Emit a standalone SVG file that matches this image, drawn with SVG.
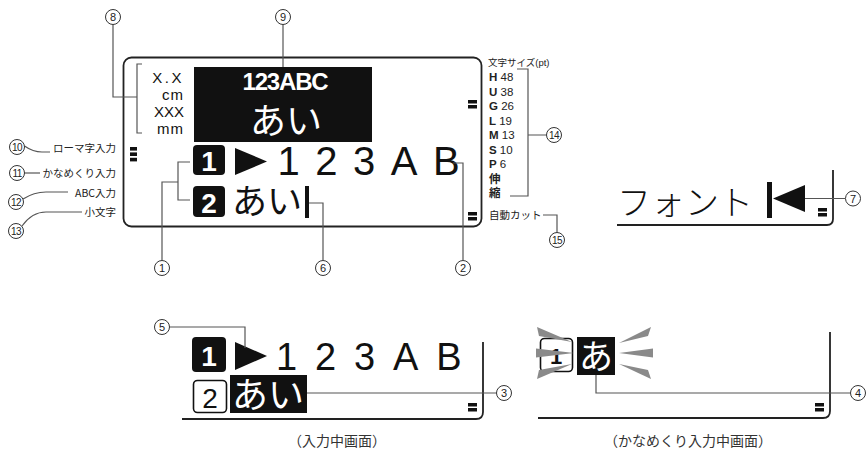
<svg xmlns="http://www.w3.org/2000/svg" width="868" height="451" viewBox="0 0 868 451">
<style>
.frame{fill:none;stroke:#222;stroke-width:1.8}
.ln{fill:none;stroke:#555;stroke-width:1.2}
.num circle{fill:#fff;stroke:#333;stroke-width:1}
.num text{font-family:"Liberation Sans",sans-serif;font-size:11px;fill:#222;text-anchor:middle}
.num text.w{font-size:10px;letter-spacing:-0.6px}
.jp{font-family:"Noto Sans CJK JP",sans-serif}
.lbl{font-family:"Noto Sans CJK JP",sans-serif;font-size:10.5px;fill:#222}
.sz{font-family:"Liberation Sans","Noto Sans CJK JP",sans-serif;font-size:11.5px;fill:#222}
.disp{font-family:"Liberation Sans",sans-serif;fill:#111}
.ind{fill:#111}
.ray{fill:#8a8a8a}
</style>

<!-- main screen -->
<g id="main-screen">
  <rect class="frame" x="123.5" y="57.5" width="358" height="169" rx="8"/>
  <g class="disp" font-size="15" text-anchor="end">
    <text x="184" y="83" letter-spacing="2.5">X.X</text>
    <text x="184" y="100" letter-spacing="1">cm</text>
    <text x="184" y="117" letter-spacing="0">XXX</text>
    <text x="184" y="134" letter-spacing="1">mm</text>
  </g>
  <path class="ln" d="M142,64 H137 V133 H142" stroke="#333"/>
  <rect x="194" y="67" width="178" height="75" fill="#111"/>
  <text x="285" y="90" font-family="Liberation Sans,sans-serif" font-weight="bold" font-size="24" letter-spacing="-1.2" fill="#fff" text-anchor="middle">123ABC</text>
  <text x="286" y="134" class="jp" font-size="36" fill="#fff" text-anchor="middle">あい</text>
  <rect x="193" y="145" width="32" height="30" rx="4" fill="#111"/>
  <text x="209" y="171" font-family="Liberation Sans,sans-serif" font-weight="bold" font-size="28" fill="#fff" text-anchor="middle">1</text>
  <polygon points="235,148 267,161.5 235,175" fill="#111"/>
  <text x="277.6" y="175" class="disp" font-size="40" letter-spacing="15.5">123AB</text>
  <rect x="193" y="186" width="32" height="31" rx="4" fill="#111"/>
  <text x="209" y="213" font-family="Liberation Sans,sans-serif" font-weight="bold" font-size="28" fill="#fff" text-anchor="middle">2</text>
  <text x="232" y="214" class="jp" font-size="35" fill="#111">あい</text>
  <rect x="305" y="186" width="4" height="32" fill="#111"/>
  <g class="ind">
    <rect x="130" y="147" width="7" height="3.6"/><rect x="130" y="152.4" width="7" height="3.6"/><rect x="130" y="157.8" width="7" height="3.6"/>
    <rect x="468" y="100" width="9" height="3.5"/><rect x="468" y="105" width="9" height="3.5"/>
    <rect x="468" y="212" width="9" height="3.5"/><rect x="468" y="217" width="9" height="3.5"/>
  </g>
</g>

<!-- left labels -->
<g id="mode-labels" class="lbl" text-anchor="end">
  <text x="116" y="152">ローマ字入力</text>
  <text x="116" y="177">かなめくり入力</text>
  <text x="116" y="197">ABC入力</text>
  <text x="116" y="216">小文字</text>
</g>

<!-- size list -->
<g id="size-list" class="sz">
  <text x="488" y="66" font-size="9.5">文字サイズ(pt)</text>
  <text x="489" y="81"><tspan font-weight="bold">H</tspan> 48</text>
  <text x="489" y="95.5"><tspan font-weight="bold">U</tspan> 38</text>
  <text x="489" y="110"><tspan font-weight="bold">G</tspan> 26</text>
  <text x="489" y="124.5"><tspan font-weight="bold">L</tspan> 19</text>
  <text x="489" y="139"><tspan font-weight="bold">M</tspan> 13</text>
  <text x="489" y="153.5"><tspan font-weight="bold">S</tspan> 10</text>
  <text x="489" y="168"><tspan font-weight="bold">P</tspan> 6</text>
  <text x="489" y="182.5" font-weight="bold">伸</text>
  <text x="489" y="197" font-weight="bold">縮</text>
  <text x="489" y="219" font-size="10.5">自動カット</text>
</g>

<!-- font screen -->
<g id="font-screen">
  <path class="frame" d="M833,170 V219 Q833,225 827,225 H617"/>
  <text x="617" y="215" class="jp" font-size="34" font-weight="300" fill="#111">フォント</text>
  <rect x="767" y="182" width="5" height="36" fill="#111"/>
  <polygon points="773,198.5 805,185 805,212" fill="#111"/>
  <rect x="818" y="208" width="9" height="3.5" fill="#111"/><rect x="818" y="213" width="9" height="3.5" fill="#111"/>
</g>

<!-- input screen -->
<g id="input-screen">
  <path class="frame" d="M483,342 V412 Q483,419 476,419 H182"/>
  <rect x="192" y="337" width="34" height="35" rx="4" fill="#111"/>
  <text x="209" y="366" font-family="Liberation Sans,sans-serif" font-weight="bold" font-size="28" fill="#fff" text-anchor="middle">1</text>
  <polygon points="235,342 267,356 235,370" fill="#111"/>
  <text x="275.9" y="370" class="disp" font-size="38" letter-spacing="17.9">123AB</text>
  <rect x="193.5" y="380.5" width="33" height="32" rx="4" fill="#fff" stroke="#111" stroke-width="1.6"/>
  <text x="210" y="408" font-family="Liberation Sans,sans-serif" font-size="28" fill="#111" text-anchor="middle">2</text>
  <rect x="230" y="375" width="77" height="38" fill="#111"/>
  <text x="232" y="408" class="jp" font-size="36" fill="#fff">あい</text>
  <rect x="468" y="403" width="9" height="3.5" fill="#111"/><rect x="468" y="408" width="9" height="3.5" fill="#111"/>
  <text x="337" y="446" class="jp" font-size="14" fill="#333" text-anchor="middle">（入力中画面）</text>
</g>

<!-- kana screen -->
<g id="kana-screen">
  <path class="frame" d="M830,332 V411 Q830,418 823,418 H538"/>
  <rect x="540.5" y="338.5" width="32" height="33" rx="4" fill="#fff" stroke="#111" stroke-width="1.6"/>
  <text x="556" y="364" font-family="Liberation Sans,sans-serif" font-weight="bold" font-size="22" fill="#111" text-anchor="middle">1</text>
  <rect x="577" y="337" width="38" height="38" fill="#111"/>
  <text x="596" y="369" class="jp" font-size="34" fill="#fff" text-anchor="middle">あ</text>
  <g class="ray">
    <polygon points="537,327 539,336 572,342"/>
    <polygon points="536,348.5 536,357.5 574,353"/>
    <polygon points="539,370 537,379 572,364"/>
    <polygon points="651,327 648,336 619,343"/>
    <polygon points="653,348.5 653,357.5 619,353"/>
    <polygon points="648,370 651,379 619,364"/>
  </g>
  <rect x="815" y="403" width="9" height="3.5" fill="#111"/><rect x="815" y="408" width="9" height="3.5" fill="#111"/>
  <text x="688" y="446" class="jp" font-size="14" fill="#333" text-anchor="middle">（かなめくり入力中画面）</text>
</g>

<!-- connectors -->
<g id="connectors" class="ln">
  <path d="M113,24.5 V97 H137"/>
  <path d="M283,24.5 V67"/>
  <path d="M190,162 H178 V200 H190 M178,182 H162 V260"/>
  <path d="M453,163 H463 V260"/>
  <path d="M309,203 H323 V260"/>
  <path d="M805,198.5 H845"/>
  <path d="M517,69 H528 V196 H510 M528,135 H546.5"/>
  <path d="M543,215 H557 V232"/>
  <path d="M24.5,146 Q33,152 42,152 H50"/>
  <path d="M24.5,173 H40"/>
  <path d="M23,199 Q34,192 46,192 H68"/>
  <path d="M22,226 Q32,212 46,212 H82"/>
  <path d="M169.5,327 H245 V348"/>
  <path d="M307,393 H496.5"/>
  <path d="M596,375 V393 H850.5"/>
</g>

<!-- number markers -->
<g id="n1" class="num"><circle cx="162" cy="268" r="7.5"/><text x="162" y="272">1</text></g>
<g id="n2" class="num"><circle cx="463" cy="268" r="7.5"/><text x="463" y="272">2</text></g>
<g id="n3" class="num"><circle cx="504" cy="393" r="7.5"/><text x="504" y="397">3</text></g>
<g id="n4" class="num"><circle cx="858" cy="393" r="7.5"/><text x="858" y="397">4</text></g>
<g id="n5" class="num"><circle cx="162" cy="327" r="7.5"/><text x="162" y="331">5</text></g>
<g id="n6" class="num"><circle cx="323" cy="268" r="7.5"/><text x="323" y="272">6</text></g>
<g id="n7" class="num"><circle cx="853" cy="198.5" r="7.5"/><text x="853" y="202.5">7</text></g>
<g id="n8" class="num"><circle cx="113" cy="17" r="7.5"/><text x="113" y="21">8</text></g>
<g id="n9" class="num"><circle cx="283" cy="17" r="7.5"/><text x="283" y="21">9</text></g>
<g id="n10" class="num"><circle cx="17" cy="147" r="7.5"/><text class="w" x="17" y="150.5">10</text></g>
<g id="n11" class="num"><circle cx="17" cy="173" r="7.5"/><text class="w" x="17" y="176.5">11</text></g>
<g id="n12" class="num"><circle cx="16" cy="202" r="7.5"/><text class="w" x="16" y="205.5">12</text></g>
<g id="n13" class="num"><circle cx="16" cy="231" r="7.5"/><text class="w" x="16" y="234.5">13</text></g>
<g id="n14" class="num"><circle cx="554" cy="135" r="7.5"/><text class="w" x="554" y="138.5">14</text></g>
<g id="n15" class="num"><circle cx="557" cy="240" r="7.5"/><text class="w" x="557" y="243.5">15</text></g>
</svg>
